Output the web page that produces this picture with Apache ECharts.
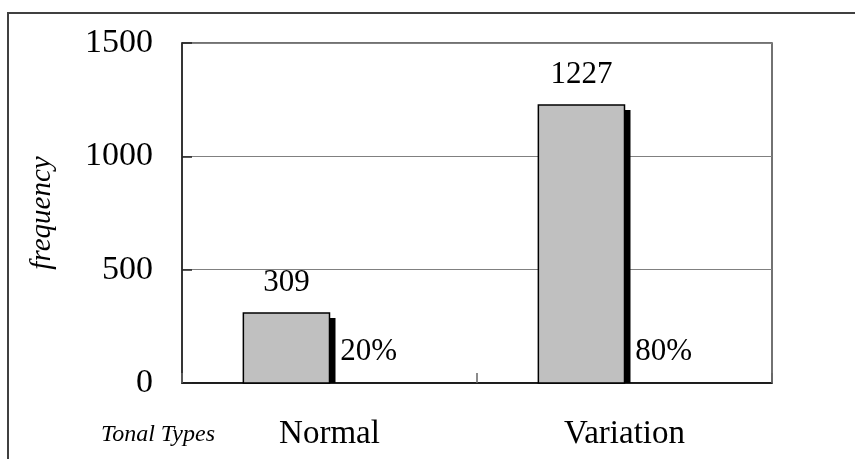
<!DOCTYPE html>
<html>
<head>
<meta charset="utf-8">
<script src="https://cdn.jsdelivr.net/npm/echarts@6/dist/echarts.min.js"></script>
<style>html,body{margin:0;padding:0;background:#fff}#c{width:855px;height:459px}</style>
</head>
<body>
<div id="c"></div>
<script>
const categories = ['Normal', 'Variation'];
const frequency = [309, 1227];
const percentLabels = ['20%', '80%'];
const yTicks = { min: 0, max: 1500, interval: 500 };

const FONT = 'Liberation Serif';
const ITALIC_FONT = 'Liberation Serif, DejaVu Serif, serif';
const chart = echarts.init(document.getElementById('c'));
chart.setOption({
  animation: false,
  backgroundColor: '#fff',
  grid: { left: 182, top: 43, right: 83, bottom: 76, show: true, borderColor: '#444', borderWidth: 1.5, backgroundColor: 'transparent' },
  graphic: [
    { type: 'rect', silent: true, z: -1, shape: { x: 8, y: 13, width: 900, height: 500 }, style: { fill: 'none', stroke: '#404040', lineWidth: 2 } },
    { type: 'text', x: 158, y: 435, style: { text: 'Tonal Types', fontFamily: ITALIC_FONT, fontStyle: 'italic', fontSize: 24, fill: '#000', align: 'center', verticalAlign: 'middle' } }
  ],
  xAxis: {
    type: 'category',
    data: categories,
    axisLine: { lineStyle: { color: '#000', width: 1.5 } },
    axisTick: { show: true, inside: true, length: 10, lineStyle: { color: '#666', width: 1.5 } },
    axisLabel: { color: '#000', fontFamily: FONT, fontSize: 33, margin: 35 },
    splitLine: { show: false }
  },
  yAxis: {
    type: 'value',
    min: yTicks.min, max: yTicks.max, interval: yTicks.interval,
    name: 'frequency',
    nameLocation: 'middle',
    nameRotate: 90,
    nameGap: 125,
    nameTextStyle: { fontFamily: ITALIC_FONT, fontStyle: 'italic', fontSize: 29, color: '#000' },
    axisLine: { show: true, lineStyle: { color: '#222', width: 1.5 } },
    axisTick: { show: true, inside: true, length: 10, lineStyle: { color: '#222', width: 1.5 } },
    axisLabel: { color: '#000', fontFamily: FONT, fontSize: 34, margin: 29, padding: [7, 0, 0, 0], formatter: v => String(v) },
    splitLine: { show: true, lineStyle: { color: '#808080', width: 1 } }
  },
  series: [{
    type: 'custom',
    clip: false,
    data: frequency.map((v, i) => [i, v]),
    renderItem: function (params, api) {
      const idx = api.value(0), v = api.value(1);
      const p = api.coord([idx, v]);
      const b = api.coord([idx, 0]);
      const catW = api.size([1, 0])[0];
      const bw = catW * 0.292;
      const x0 = b[0] - bw;
      const h = b[1] - p[1];
      return {
        type: 'group',
        children: [
          { type: 'rect', shape: { x: x0 + 6, y: p[1] + 5, width: bw, height: h - 5 }, style: { fill: '#000' } },
          { type: 'rect', shape: { x: x0, y: p[1], width: bw, height: h }, style: { fill: '#c0c0c0', stroke: '#000', lineWidth: 1.5 } },
          { type: 'text', x: x0 + bw / 2, y: p[1] - 30, style: { text: String(v), fontFamily: FONT, fontSize: 31, fill: '#000', align: 'center', verticalAlign: 'middle' } },
          { type: 'text', x: b[0] + bw / 2 - 4, y: b[1] - 31, style: { text: percentLabels[idx], fontFamily: FONT, fontSize: 31, fill: '#000', align: 'center', verticalAlign: 'middle' } }
        ]
      };
    }
  }]
});
</script>
</body>
</html>
